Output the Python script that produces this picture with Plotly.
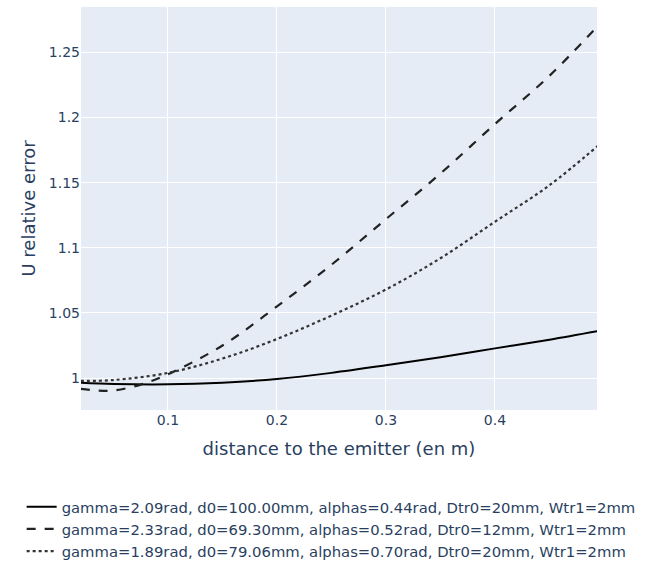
import plotly.graph_objects as go

x_solid = [0.02, 0.05, 0.1, 0.15, 0.2, 0.25, 0.3, 0.35, 0.4, 0.45, 0.494]
y_solid = [0.9965, 0.9955, 0.9952, 0.9965, 0.9993, 1.0040, 1.0098, 1.0160, 1.0228, 1.0295, 1.0360]

x_dash = [0.02, 0.035, 0.05, 0.075, 0.1, 0.15, 0.2, 0.25, 0.3, 0.35, 0.4, 0.45, 0.494]
y_dash = [0.9918, 0.9905, 0.9905, 0.995, 1.003, 1.025, 1.055, 1.087, 1.122, 1.157, 1.195, 1.232, 1.270]

x_dot = [0.02, 0.05, 0.1, 0.15, 0.2, 0.25, 0.3, 0.35, 0.4, 0.45, 0.494]
y_dot = [0.9978, 0.9985, 1.004, 1.015, 1.030, 1.048, 1.068, 1.092, 1.120, 1.148, 1.178]

names = [
    "gamma=2.09rad, d0=100.00mm, alphas=0.44rad, Dtr0=20mm, Wtr1=2mm",
    "gamma=2.33rad, d0=69.30mm, alphas=0.52rad, Dtr0=12mm, Wtr1=2mm",
    "gamma=1.89rad, d0=79.06mm, alphas=0.70rad, Dtr0=20mm, Wtr1=2mm",
]

fig = go.Figure()
fig.add_trace(go.Scatter(x=x_solid, y=y_solid, mode="lines", name=names[0],
                         line=dict(color="black", width=2, shape="spline")))
fig.add_trace(go.Scatter(x=x_dash, y=y_dash, mode="lines", name=names[1],
                         line=dict(color="#222", width=2.2, dash="dash", shape="spline")))
fig.add_trace(go.Scatter(x=x_dot, y=y_dot, mode="lines", name=names[2],
                         line=dict(color="#333", width=2.2, dash="dot", shape="spline")))

fig.update_layout(
    template="plotly",
    width=646, height=561,
    margin=dict(l=81, r=49, t=7, b=151, autoexpand=False),
    font=dict(family="DejaVu Sans, Verdana, sans-serif", size=14, color="#2a3f5f"),
    legend=dict(x=-0.115, y=-0.2, xanchor="left", yanchor="top",
                font=dict(size=14.8, color="#2a3f5f"), tracegroupgap=0),
    showlegend=True,
)
fig.update_xaxes(range=[0.0202, 0.4936], title=dict(text="distance to the emitter (en m)", font=dict(size=18)),
                 tickvals=[0.1, 0.2, 0.3, 0.4], tickfont=dict(size=14))
fig.update_yaxes(range=[0.9755, 1.2848], title=dict(text="U relative error", font=dict(size=18), standoff=8),
                 tickvals=[1, 1.05, 1.1, 1.15, 1.2, 1.25], ticktext=["1", "1.05", "1.1", "1.15", "1.2", "1.25"],
                 tickfont=dict(size=14))

fig.write_html("out.html")
